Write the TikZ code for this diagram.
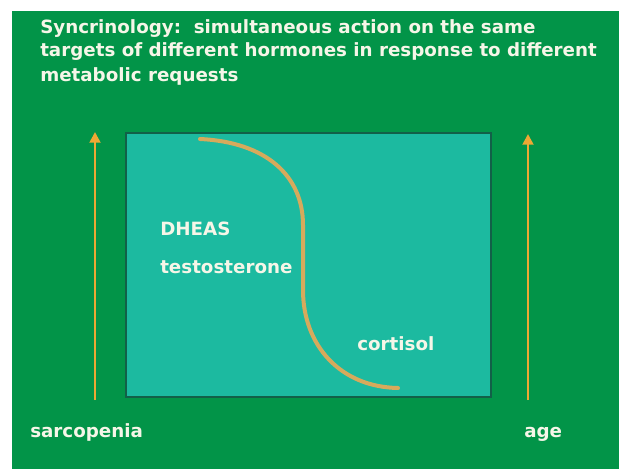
\documentclass[tikz,border=0pt]{standalone}
\usepackage{fontspec}
\setmainfont{DejaVu Sans}
\usetikzlibrary{arrows.meta}

\definecolor{slidegreen}{RGB}{2,148,72}
\definecolor{boxteal}{RGB}{28,186,160}
\definecolor{boxedge}{RGB}{18,96,72}
\definecolor{arroworange}{RGB}{238,168,52}
\definecolor{curvetan}{RGB}{214,170,92}
\definecolor{labelwhite}{RGB}{246,246,232}

\tikzset{
  label text/.style={anchor=base west, inner sep=0pt, text=labelwhite,
    font=\fontsize{13.7}{18.4}\selectfont\bfseries},
  axis arrow/.style={color=arroworange, line width=2.2,
    -{Triangle[width=8,length=8]}},
}

\begin{document}
\begin{tikzpicture}[x=0.75pt,y=0.75pt,yscale=-1,xscale=1]
\useasboundingbox (0,0) rectangle (619,469);
%Shape: Rectangle (page and slide)
\fill [white] (0,0) rectangle (619,469);
\fill [slidegreen] (12,11) rectangle (619,469);
%Shape: Rectangle (inner panel)
\draw [boxedge, line width=1.5, fill=boxteal] (126,133) rectangle (491,397);
%Curve: hormone crossing
\draw [curvetan, line width=3, line cap=round]
  (200,139) .. controls (265,142) and (303,175) .. (303,225)
  -- (303,290) .. controls (303,345) and (340,387) .. (398,388);
%Straight Lines: vertical arrows
\coordinate (sarcoBot) at (95,400);
\coordinate (sarcoTop) at (95,132);
\coordinate (ageBot) at (528,400);
\coordinate (ageTop) at (528,134);
\draw [axis arrow] (sarcoBot) -- (sarcoTop);
\draw [axis arrow] (ageBot) -- (ageTop);
% Text Node
\node (titleA) [label text] at (40,33) {Syncrinology:\ \ simultaneous action on the same};
% Text Node
\node (titleB) [label text] at (40,56) {targets of different hormones in response to different};
% Text Node
\node (titleC) [label text] at (40,81) {metabolic requests};
% Text Node
\node (dheas) [label text] at (160,235) {DHEAS};
% Text Node
\node (testo) [label text] at (160,273) {testosterone};
% Text Node
\node (cortisol) [label text] at (357,350) {cortisol};
% Text Node
\node (sarco) [label text] at (30,437) {sarcopenia};
% Text Node
\node (age) [label text] at (524,437) {age};
\end{tikzpicture}
\end{document}
